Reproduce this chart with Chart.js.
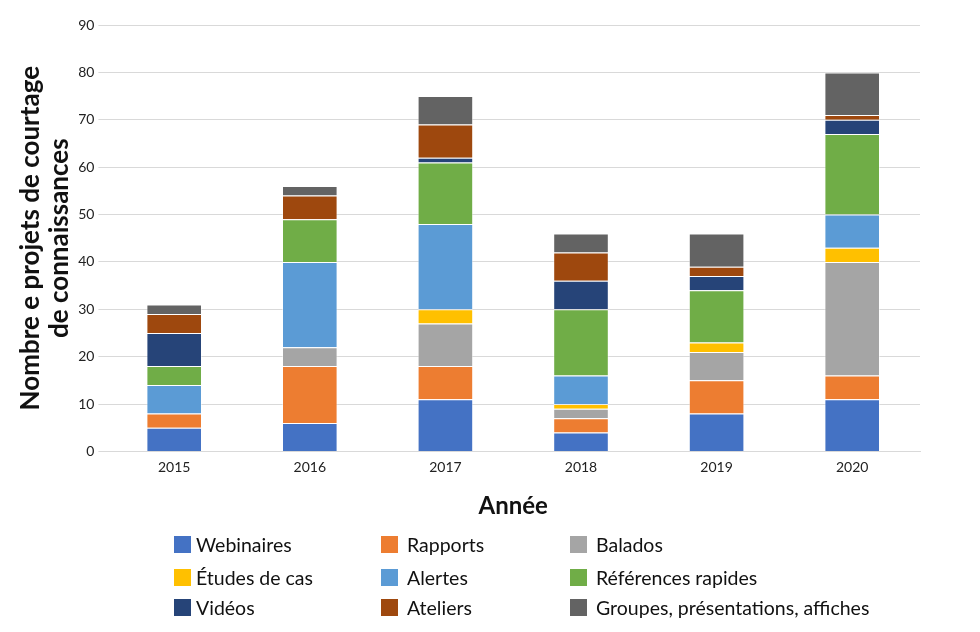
<!DOCTYPE html>
<html>
<head>
<meta charset="utf-8">
<script src="https://cdn.jsdelivr.net/npm/chart.js@4/dist/chart.umd.min.js"></script>
<style>
  html, body { margin: 0; padding: 0; background: #fff; }
  #wrap { position: relative; width: 980px; height: 632px; }
  #legend { position: absolute; left: 0; top: 0; font-family: Lato, 'Open Sans', sans-serif; font-size: 19.5px; color: #111; }
  .box { position: absolute; width: 17px; height: 17px; }
  .txt { position: absolute; white-space: nowrap; line-height: 24px; }
</style>
</head>
<body>
<div id="wrap">
  <canvas id="chart" width="980" height="632"></canvas>
  <div id="legend"></div>
</div>
<script>
const years = ['2015', '2016', '2017', '2018', '2019', '2020'];

const webinaires = [5, 6, 11, 4, 8, 11];
const rapports = [3, 12, 7, 3, 7, 5];
const balados = [0, 4, 9, 2, 6, 24];
const etudes = [0, 0, 3, 1, 2, 3];
const alertes = [6, 18, 18, 6, 0, 7];
const references = [4, 9, 13, 14, 11, 17];
const videos = [7, 0, 1, 6, 3, 3];
const ateliers = [4, 5, 7, 6, 2, 1];
const groupes = [2, 2, 6, 4, 7, 9];

const yTicks = [0, 10, 20, 30, 40, 50, 60, 70, 80, 90];

const series = [
  { label: 'Webinaires', data: webinaires, color: '#4472C4' },
  { label: 'Rapports', data: rapports, color: '#ED7D31' },
  { label: 'Balados', data: balados, color: '#A5A5A5' },
  { label: 'Études de cas', data: etudes, color: '#FFC000' },
  { label: 'Alertes', data: alertes, color: '#5B9BD5' },
  { label: 'Références rapides', data: references, color: '#70AD47' },
  { label: 'Vidéos', data: videos, color: '#264478' },
  { label: 'Ateliers', data: ateliers, color: '#9E480E' },
  { label: 'Groupes, présentations, affiches', data: groupes, color: '#636363' }
];

const font = "Lato, 'Open Sans', sans-serif";

const config = {
  type: 'bar',
  data: {
    labels: years,
    datasets: series.map(s => ({
      label: s.label,
      data: s.data,
      backgroundColor: s.color,
      borderColor: 'rgba(255,255,255,0.45)',
      borderWidth: 1,
      barPercentage: 0.41,
      categoryPercentage: 1
    }))
  },
  options: {
    responsive: false,
    animation: false,
    layout: { padding: { top: 25, right: 60, bottom: 107, left: 13 } },
    plugins: {
      legend: { display: false },
      tooltip: { enabled: false }
    },
    scales: {
      x: {
        stacked: true,
        grid: { display: false },
        border: { color: '#d9d9d9' },
        ticks: { color: '#222', font: { family: font, size: 14 }, padding: 0 },
        title: {
          display: true,
          text: 'Année',
          color: '#111',
          font: { family: font, size: 24, weight: 'bold' },
          padding: { top: 16 }
        }
      },
      y: {
        stacked: true,
        min: 0,
        max: 90,
        afterBuildTicks: axis => { axis.ticks = yTicks.map(v => ({ value: v })); },
        grid: { color: '#d9d9d9', tickLength: 8 },
        border: { display: false },
        ticks: { color: '#222', font: { family: font, size: 14 }, padding: 4 },
        title: {
          display: true,
          text: ['Nombre e projets de courtage', 'de connaissances'],
          color: '#111',
          font: { family: font, size: 26, weight: 'bold', lineHeight: 1.08 },
          padding: { bottom: 1 }
        }
      }
    }
  }
};

// legend laid out as a 3-column grid like the original
const boxCols = [174, 381, 570];
const textCols = [196, 407, 596];
const rows = [545, 578, 608];
function buildLegend() {
  const el = document.getElementById('legend');
  series.forEach((s, i) => {
    const cy = rows[Math.floor(i / 3)];
    const box = document.createElement('div');
    box.className = 'box';
    box.style.left = boxCols[i % 3] + 'px';
    box.style.top = (cy - 9) + 'px';
    box.style.background = s.color;
    const txt = document.createElement('div');
    txt.className = 'txt';
    txt.style.left = textCols[i % 3] + 'px';
    txt.style.top = (cy - 12) + 'px';
    txt.textContent = s.label;
    el.appendChild(box);
    el.appendChild(txt);
  });
}

document.addEventListener('DOMContentLoaded', () => {
  new Chart(document.getElementById('chart').getContext('2d'), config);
  buildLegend();
});
</script>
</body>
</html>
